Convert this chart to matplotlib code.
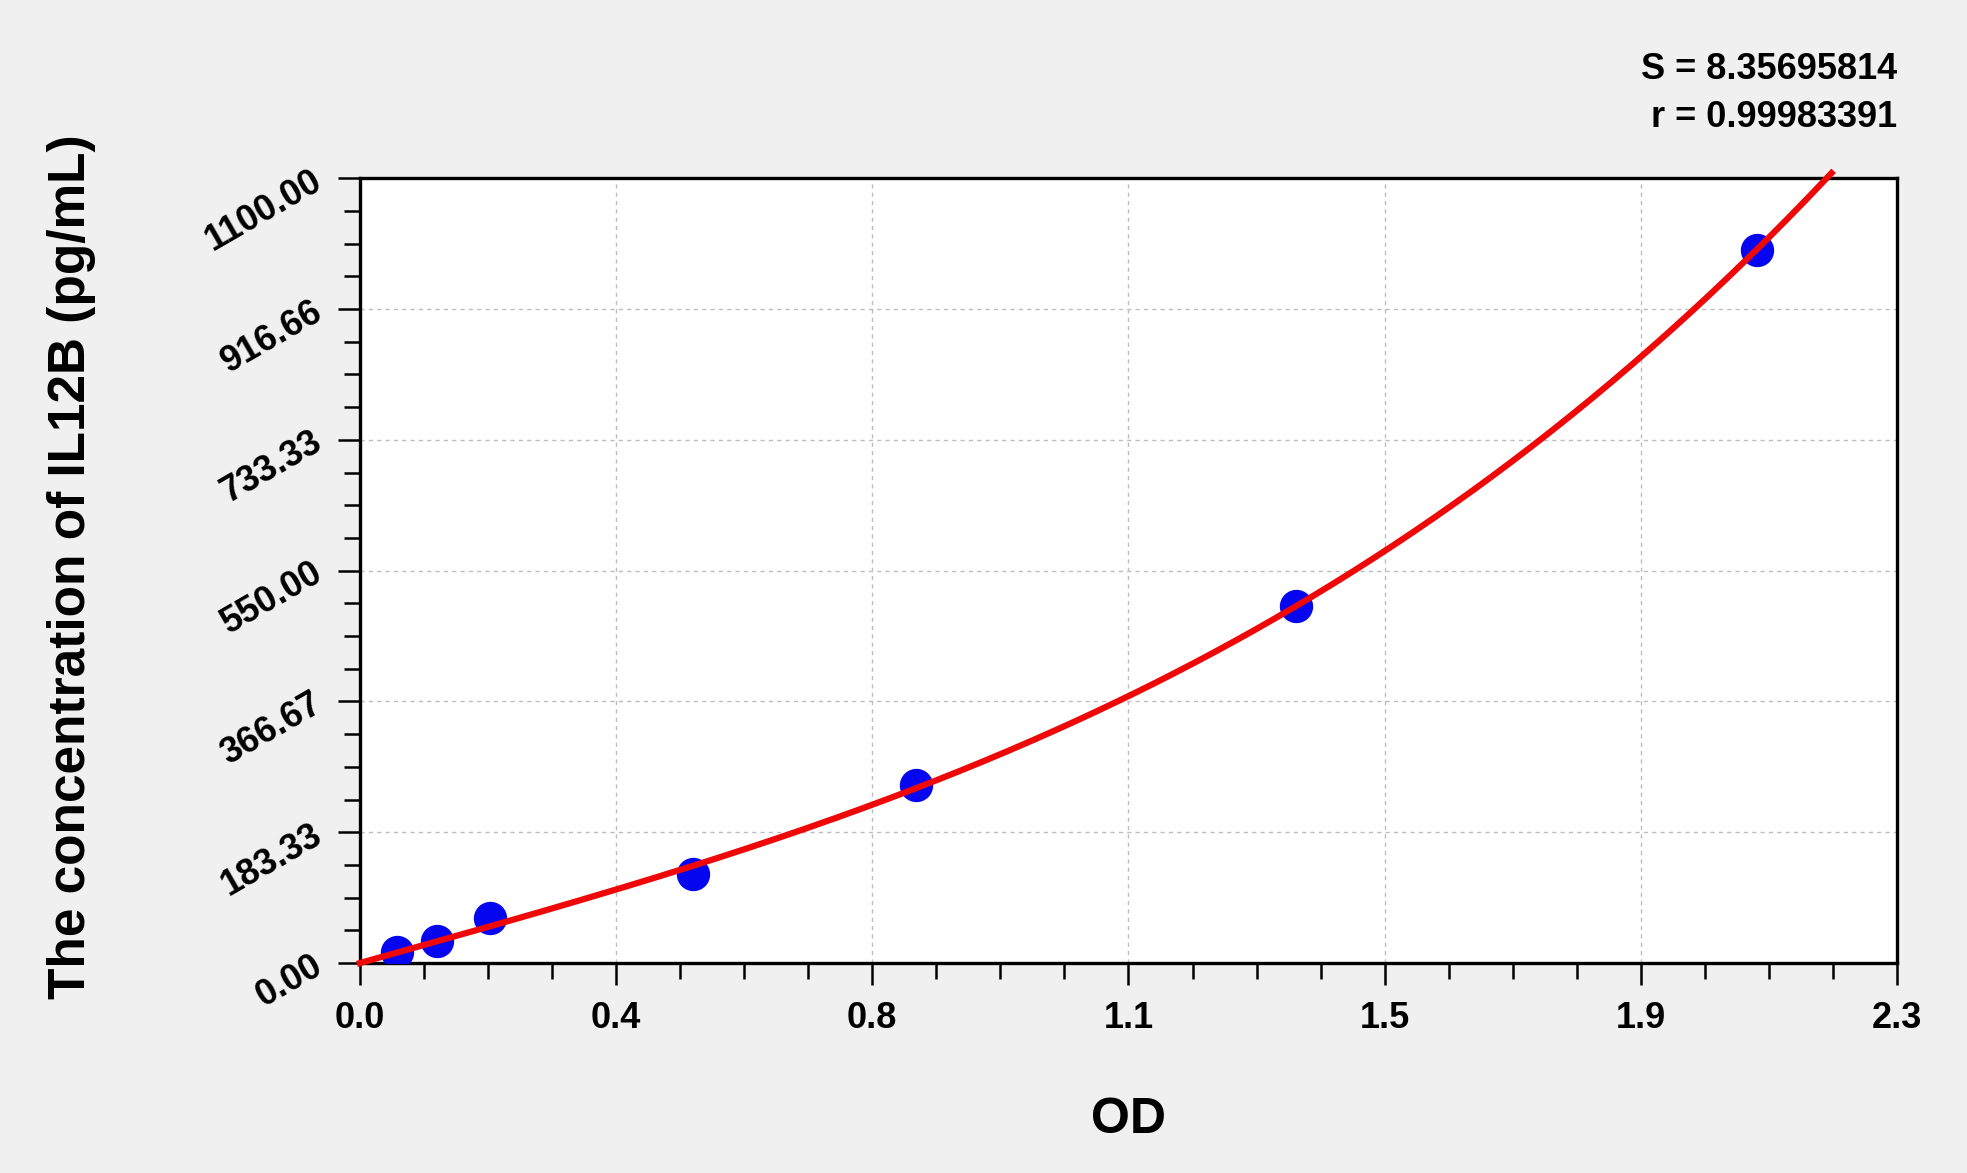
import numpy as np
import matplotlib.pyplot as plt
from matplotlib.ticker import FixedLocator, AutoMinorLocator

# Puntos estandar
od = [0.055, 0.116, 0.195, 0.499, 0.832, 1.401, 2.090]
conc = [15.63, 31.25, 62.5, 125.0, 250.0, 500.0, 1000.0]

x_ticks = [0.0, 2.3 / 6, 2 * 2.3 / 6, 3 * 2.3 / 6, 4 * 2.3 / 6, 5 * 2.3 / 6, 2.3]
x_labels = ['0.0', '0.4', '0.8', '1.1', '1.5', '1.9', '2.3']
y_ticks = [0.0, 1100 / 6, 2 * 1100 / 6, 3 * 1100 / 6, 4 * 1100 / 6, 5 * 1100 / 6, 1100.0]
y_labels = ['0.00', '183.33', '366.67', '550.00', '733.33', '916.66', '1100.00']

s_text = 'S = 8.35695814'
r_text = 'r = 0.99983391'

plt.rcParams['font.family'] = ['Liberation Sans', 'DejaVu Sans']
plt.rcParams['font.weight'] = 'bold'

# Ajuste cubico sin intercepto (curva roja)
xo = np.array(od)
A = np.column_stack([xo, xo ** 2, xo ** 3])
coef, *_ = np.linalg.lstsq(A, np.array(conc), rcond=None)
xf = np.linspace(0, 2.202, 300)
yf = coef[0] * xf + coef[1] * xf ** 2 + coef[2] * xf ** 3

fig = plt.figure(figsize=(19.67, 11.73), dpi=100, facecolor='#f0f0f0')
ax = fig.add_axes([0.183, 0.179, 0.7814, 0.669])
ax.set_facecolor('white')

ax.plot(od, conc, 'o', color='#0505f0', markersize=23, zorder=3)
ax.plot(xf, yf, color='#ee0808', linewidth=4.5, zorder=4, clip_on=False)

ax.set_xlim(0, 2.3)
ax.set_ylim(0, 1100)
ax.xaxis.set_major_locator(FixedLocator(x_ticks))
ax.yaxis.set_major_locator(FixedLocator(y_ticks))
ax.set_xticklabels(x_labels)
ax.set_yticklabels(y_labels, rotation=30, ha='right', va='center', rotation_mode='anchor')
ax.xaxis.set_minor_locator(AutoMinorLocator(4))
ax.yaxis.set_minor_locator(AutoMinorLocator(4))

ax.tick_params(axis='both', which='major', direction='out', length=16, width=1.8,
               labelsize=26, colors='black')
ax.tick_params(axis='both', which='minor', direction='out', length=11.5, width=1.8)
ax.tick_params(axis='x', which='major', pad=11)
ax.tick_params(axis='y', which='major', pad=13)

for sp in ax.spines.values():
    sp.set_linewidth(2.4)
    sp.set_color('black')

ax.grid(True, which='major', color='#bdbdbd', linestyle=(0, (3, 3)), linewidth=1)

ax.set_xlabel('OD', fontsize=36, fontweight='bold', labelpad=44)
ax.set_ylabel('The concentration of IL12B (pg/mL)', fontsize=37, fontweight='bold')
ax.yaxis.set_label_coords(-0.172, 0.505)

fig.text(0.9645, 0.9405, s_text, ha='right', va='center', fontsize=26, fontweight='bold')
fig.text(0.9645, 0.900, r_text, ha='right', va='center', fontsize=26, fontweight='bold')

fig.savefig('out.png', dpi=100, facecolor=fig.get_facecolor())
